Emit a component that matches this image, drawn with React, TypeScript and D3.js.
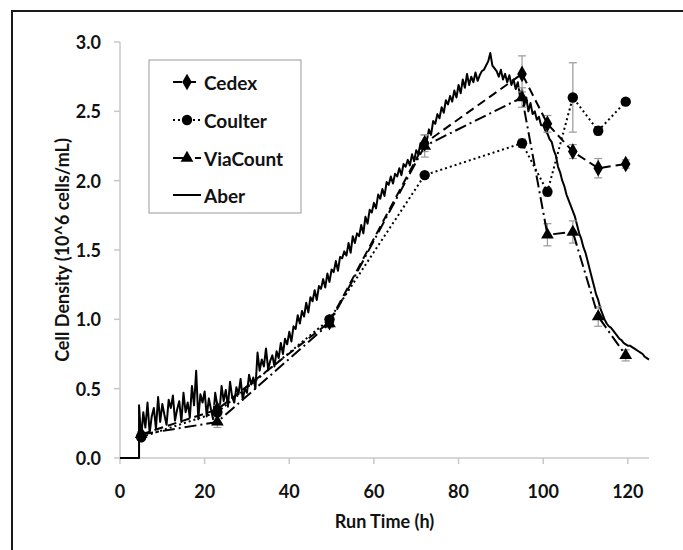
import React from "react";
import * as d3 from "d3";

// Measured sample times (h)
const SAMPLE_TIMES = [5, 23, 49.5, 72, 95, 101, 107, 113, 119.5];

const CEDEX = [0.17, 0.35, 0.98, 2.27, 2.77, 2.41, 2.21, 2.09, 2.12];
const CEDEX_ERR = [0.02, 0.03, 0.03, 0.06, 0.13, 0.06, 0.05, 0.07, 0.03];

const COULTER = [0.15, 0.33, 1.0, 2.04, 2.27, 1.92, 2.6, 2.36, 2.57];
const COULTER_ERR = [0.02, 0.02, 0.02, 0.02, 0.03, 0.03, 0.25, 0.03, 0.02];

const VIACOUNT = [0.17, 0.26, 0.97, 2.25, 2.6, 1.61, 1.63, 1.02, 0.74];
const VIACOUNT_ERR = [0.02, 0.04, 0.03, 0.08, 0.07, 0.08, 0.08, 0.07, 0.04];

// Aber probe: flat zero before inoculation, then readings every 0.5 h from 4.5 h
const ABER_PRE_T = [0, 4.5];
const ABER_PRE_V = [0, 0];
const ABER_START = 4.5;
const ABER_STEP = 0.5;
const ABER_V = [
  0.38,
  0.14, 0.33, 0.22, 0.40, 0.18, 0.30, 0.36, 0.21, 0.44, 0.26,
  0.39, 0.31, 0.24, 0.42, 0.36, 0.45, 0.27, 0.35, 0.41, 0.26,
  0.47, 0.33, 0.40, 0.29, 0.52, 0.38, 0.63, 0.28, 0.46, 0.40,
  0.48, 0.30, 0.43, 0.35, 0.28, 0.47, 0.38, 0.33, 0.52, 0.41,
  0.49, 0.37, 0.55, 0.44, 0.40, 0.51, 0.46, 0.57, 0.42, 0.50,
  0.47, 0.60, 0.53, 0.58, 0.50, 0.76, 0.63, 0.71, 0.66, 0.79,
  0.64, 0.70, 0.74, 0.66, 0.77, 0.72, 0.83, 0.75, 0.86, 0.82,
  0.91, 0.84, 0.95, 0.93, 1.03, 0.97, 1.06, 1.02, 1.12, 1.05,
  1.16, 1.13, 1.21, 1.14, 1.24, 1.22, 1.29, 1.23, 1.33, 1.27,
  1.36, 1.34, 1.42, 1.35, 1.45, 1.44, 1.49, 1.46, 1.55, 1.48,
  1.60, 1.55, 1.62, 1.60, 1.68, 1.62, 1.74, 1.69, 1.79, 1.77,
  1.84, 1.80, 1.90, 1.87, 1.94, 1.89, 1.99, 1.97, 2.03, 1.98,
  2.05, 2.03, 2.09, 2.04, 2.12, 2.10, 2.15, 2.11, 2.19, 2.14,
  2.22, 2.19, 2.27, 2.25, 2.31, 2.29, 2.37, 2.33, 2.43, 2.41,
  2.48, 2.45, 2.53, 2.49, 2.58, 2.55, 2.61, 2.57, 2.65, 2.60,
  2.69, 2.63, 2.73, 2.67, 2.77, 2.69, 2.75, 2.71, 2.78, 2.72,
  2.76, 2.79, 2.80, 2.83, 2.86, 2.92, 2.83, 2.81, 2.79, 2.75,
  2.80, 2.73, 2.77, 2.71, 2.76, 2.69, 2.73, 2.66, 2.71, 2.61,
  2.66, 2.54, 2.60, 2.50, 2.56, 2.48, 2.50, 2.44, 2.46, 2.40,
  2.40, 2.36, 2.34, 2.30, 2.28, 2.22, 2.18, 2.10, 2.06, 2.00,
  1.96, 1.90, 1.86, 1.82, 1.78, 1.74, 1.68, 1.62, 1.58, 1.52,
  1.48, 1.42, 1.36, 1.30, 1.24, 1.18, 1.14, 1.08, 1.04, 1.00,
  0.97, 0.95, 0.94, 0.92, 0.90, 0.88, 0.86, 0.85, 0.83, 0.82,
  0.81, 0.81, 0.80, 0.79, 0.78, 0.77, 0.76, 0.75, 0.73, 0.72,
  0.71,
];

const X_TICKS = [0, 20, 40, 60, 80, 100, 120];
const Y_TICKS = [0, 0.5, 1.0, 1.5, 2.0, 2.5, 3.0];
const LEGEND_LABELS = ["Cedex", "Coulter", "ViaCount", "Aber"];

const FONT = "Lato, 'Open Sans', sans-serif";

export default function App() {
  const x = d3.scaleLinear().domain([0, 125]).range([120, 649]);
  const y = d3.scaleLinear().domain([0, 3]).range([458, 42]);

  const aberPts: [number, number][] = [
    ...ABER_PRE_T.map((t, i) => [t, ABER_PRE_V[i]] as [number, number]),
    ...ABER_V.map((v, i) => [ABER_START + i * ABER_STEP, v] as [number, number]),
  ];
  const line = d3
    .line<[number, number]>()
    .x((d) => x(d[0]))
    .y((d) => y(d[1]));

  const mk = (vals: number[]) => SAMPLE_TIMES.map((t, i) => [t, vals[i]] as [number, number]);

  const series = [
    { name: "Cedex", vals: CEDEX, err: CEDEX_ERR, dash: "9,5", sym: d3.symbolDiamond, size: 80 },
    { name: "Coulter", vals: COULTER, err: COULTER_ERR, dash: "2,3", sym: d3.symbolCircle, size: 85 },
    { name: "ViaCount", vals: VIACOUNT, err: VIACOUNT_ERR, dash: "12,4,2,4", sym: d3.symbolTriangle, size: 70 },
  ];

  const legendY = [82, 120, 158, 195];

  return (
    <svg
      width={683}
      height={550}
      style={{ position: "absolute", left: 0, top: 0, background: "#fff" }}
    >
      <rect x={0} y={0} width={683} height={550} fill="#fff" />
      {/* outer frame */}
      <rect x={12} y={11} width={700} height={600} fill="none" stroke="#1a1a1a" strokeWidth={2} />

      {/* axes */}
      <line x1={120} x2={120} y1={y(3)} y2={y(0)} stroke="#c8c8c8" strokeWidth={1.5} />
      <line x1={120} x2={x(125)} y1={y(0)} y2={y(0)} stroke="#c8c8c8" strokeWidth={1.5} />
      {Y_TICKS.map((t) => (
        <g key={"y" + t}>
          <line x1={114} x2={120} y1={y(t)} y2={y(t)} stroke="#c8c8c8" strokeWidth={1.5} />
          <text
            x={101}
            y={y(t)}
            textAnchor="end"
            dominantBaseline="central"
            fontFamily={FONT}
            fontWeight="bold"
            fontSize={18}
            fill="#111"
          >
            {t.toFixed(1)}
          </text>
        </g>
      ))}
      {X_TICKS.map((t) => (
        <g key={"x" + t}>
          <line x1={x(t)} x2={x(t)} y1={y(0)} y2={y(0) + 6} stroke="#c8c8c8" strokeWidth={1.5} />
          <text
            x={x(t)}
            y={491}
            textAnchor="middle"
            dominantBaseline="central"
            fontFamily={FONT}
            fontWeight="bold"
            fontSize={18}
            fill="#111"
          >
            {t}
          </text>
        </g>
      ))}
      <text
        x={(120 + 649) / 2}
        y={521}
        textAnchor="middle"
        dominantBaseline="central"
        fontFamily={FONT}
        fontWeight="bold"
        fontSize={18}
        fill="#111"
      >
        Run Time (h)
      </text>
      <text
        transform={`translate(62,${(42 + 458) / 2}) rotate(-90)`}
        textAnchor="middle"
        dominantBaseline="central"
        fontFamily={FONT}
        fontWeight="bold"
        fontSize={18}
        fill="#111"
      >
        Cell Density (10^6 cells/mL)
      </text>

      {/* Aber continuous line */}
      <path d={line(aberPts) || ""} fill="none" stroke="#000" strokeWidth={2} strokeLinejoin="round" />

      {/* error bars */}
      {series.map((s) =>
        SAMPLE_TIMES.map((t, i) => {
          const cx = x(t);
          const y1 = y(s.vals[i] + s.err[i]);
          const y2 = y(s.vals[i] - s.err[i]);
          return (
            <g key={s.name + "e" + i} stroke="#999" strokeWidth={1.2}>
              <line x1={cx} x2={cx} y1={y1} y2={y2} />
              <line x1={cx - 4} x2={cx + 4} y1={y1} y2={y1} />
              <line x1={cx - 4} x2={cx + 4} y1={y2} y2={y2} />
            </g>
          );
        })
      )}

      {/* discrete series */}
      {series.map((s) => (
        <g key={s.name}>
          <path
            d={line(mk(s.vals)) || ""}
            fill="none"
            stroke="#000"
            strokeWidth={2}
            strokeDasharray={s.dash}
          />
          {SAMPLE_TIMES.map((t, i) => (
            <path
              key={i}
              transform={`translate(${x(t)},${y(s.vals[i])})`}
              d={d3.symbol().type(s.sym).size(s.size)() || ""}
              fill="#000"
            />
          ))}
        </g>
      ))}

      {/* legend */}
      <rect x={149} y={60} width={152} height={153} fill="#fff" stroke="#999" strokeWidth={1} />
      {LEGEND_LABELS.map((lab, i) => {
        const ly = legendY[i];
        const s = series[i];
        return (
          <g key={lab}>
            <line
              x1={173}
              x2={201}
              y1={ly}
              y2={ly}
              stroke="#000"
              strokeWidth={2}
              strokeDasharray={s ? s.dash : undefined}
            />
            {s && (
              <path
                transform={`translate(187,${ly})`}
                d={d3.symbol().type(s.sym).size(s.size)() || ""}
                fill="#000"
              />
            )}
            <text
              x={204}
              y={ly}
              dominantBaseline="central"
              fontFamily={FONT}
              fontWeight="bold"
              fontSize={19}
              fill="#111"
            >
              {lab}
            </text>
          </g>
        );
      })}
    </svg>
  );
}
